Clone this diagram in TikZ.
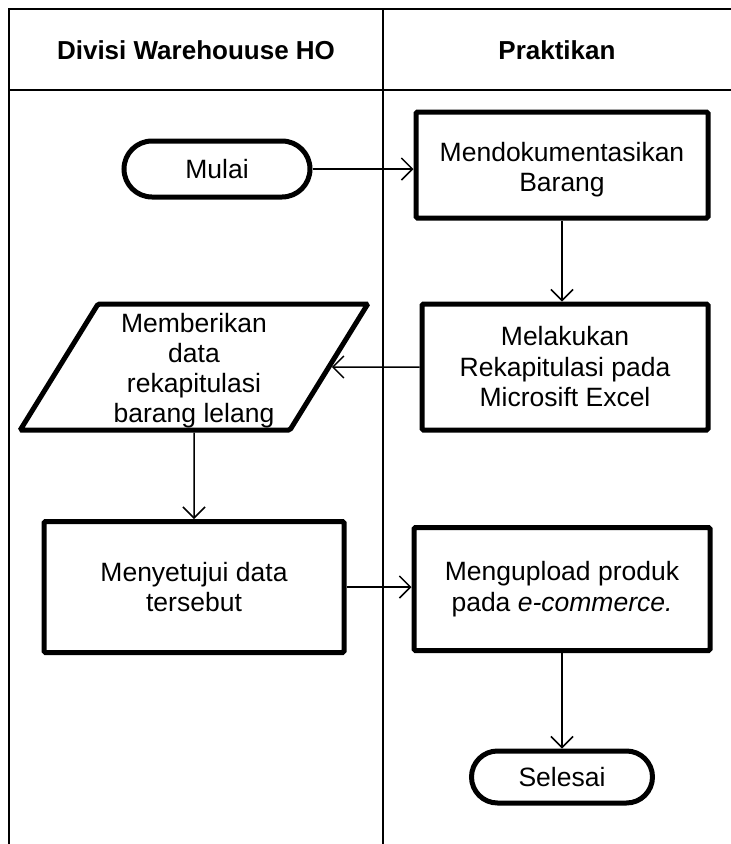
\documentclass[tikz,border=0pt]{standalone}
\usepackage{fontspec}
\setmainfont{Liberation Sans}
\usetikzlibrary{arrows.meta,shapes.geometric}
\begin{document}
\begin{tikzpicture}[x=1pt,y=-1pt,
  lane/.style={line width=1.6pt},
  procbox/.style={draw,line width=5pt,rounded corners=1.5pt,align=center,
    font=\fontsize{26.5}{30.5}\selectfont,inner sep=0pt},
  termbox/.style={procbox,minimum height=56pt,rounded corners=28pt},
  iobox/.style={procbox,trapezium,trapezium left angle=62,trapezium right angle=118,
    trapezium stretches=true,rounded corners=1.5pt},
  flow/.style={line width=1.5pt,-{Straight Barb[length=11pt,width=22pt,line width=1.5pt]}},
  head/.style={font=\bfseries\fontsize{26}{30}\selectfont}]
\useasboundingbox (0,0) rectangle (731,844);
% swimlane frame
\draw[lane] (731,9) -- (9,9) -- (9,844);
\draw[lane] (383,9) -- (383,844);
\draw[lane] (9,90) -- (731,90);
\node[head] (h1) at (196,50) {Divisi Warehouuse HO};
\node[head] (h2) at (557,50) {Praktikan};
% flow elements (a zero-width rule on the first line pushes the text block down)
\node[termbox,minimum width=186pt] (mulai) at (217,169) {Mulai};
\node[procbox,minimum width=292pt,minimum height=106pt] (dok) at (562,165)
  {\rule{0pt}{28pt}Mendokumentasikan\\Barang};
\node[procbox,minimum width=286pt,minimum height=126pt] (rekap) at (565,367)
  {Melakukan\\Rekapitulasi pada\\Microsift Excel};
\node[iobox,minimum width=348pt,minimum height=126pt,font=\fontsize{26.5}{30}\selectfont] (beri) at (194,367)
  {\rule{0pt}{27pt}Memberikan\\data\\rekapitulasi\\barang lelang};
\node[procbox,minimum width=300pt,minimum height=131pt] (setuju) at (194,587)
  {Menyetujui data\\tersebut};
\node[procbox,minimum width=296pt,minimum height=123pt] (upload) at (562,589)
  {Mengupload produk\\pada \textit{e-commerce.}};
\node[termbox,minimum width=181pt,minimum height=52pt,rounded corners=26pt] (selesai) at (562,777) {Selesai};
% connectors
\draw[flow] (mulai.east) -- (dok.west |- mulai.east);
\draw[flow] (dok.south) -- (rekap.north -| dok.south);
\draw[flow] (rekap.west) -- (beri.east);
\draw[flow] (beri.south) -- (setuju.north);
\draw[flow] (setuju.east) -- (upload.west |- setuju.east);
\draw[flow] (upload.south) -- (selesai.north);
\end{tikzpicture}
\end{document}
